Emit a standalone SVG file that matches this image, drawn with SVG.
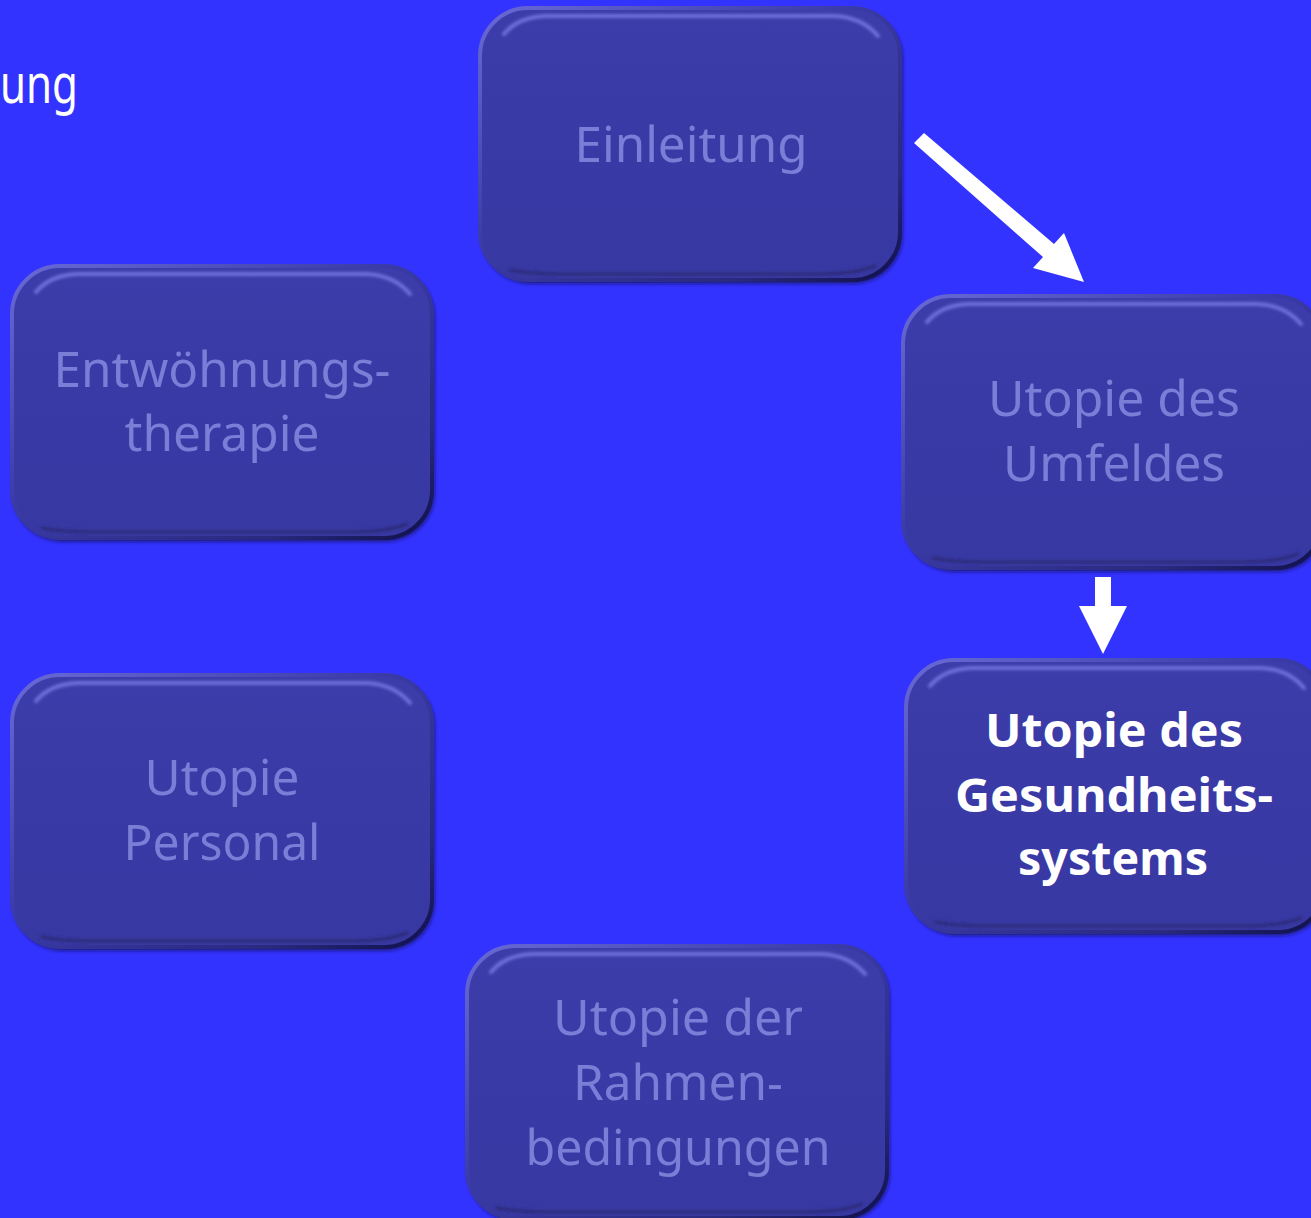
<svg xmlns="http://www.w3.org/2000/svg" width="1311" height="1218" viewBox="0 0 1311 1218">
<defs>
<linearGradient id="edge" x1="0" y1="0" x2="1" y2="1">
<stop offset="0" stop-color="#6a6ad6"/>
<stop offset="0.45" stop-color="#3a3aa6"/>
<stop offset="0.8" stop-color="#2a2a80"/>
<stop offset="1" stop-color="#10104a"/>
</linearGradient>
<linearGradient id="fillg" x1="0" y1="0" x2="0" y2="1">
<stop offset="0" stop-color="#3c3caa"/>
<stop offset="1" stop-color="#3838a3"/>
</linearGradient>
<filter id="blur" x="-10%" y="-50%" width="120%" height="200%">
<feGaussianBlur stdDeviation="1.5"/>
</filter>
<filter id="sh" x="-10%" y="-10%" width="130%" height="130%">
<feGaussianBlur stdDeviation="2"/>
</filter>
<g id="box">
<rect x="2" y="3" width="420" height="272" rx="48" fill="#15155a" filter="url(#sh)"/>
<rect x="0" y="0" width="420" height="272" rx="48" fill="url(#fillg)" stroke="url(#edge)" stroke-width="4"/>
<path d="M 24 26 Q 38 9 66 8 L 354 8 Q 382 9 398 28" fill="none" stroke="#6f6fdc" stroke-width="4" stroke-linecap="round" filter="url(#blur)"/>
<path d="M 30 262 Q 50 266 80 266 L 340 266 Q 375 266 395 258" fill="none" stroke="#2a2a78" stroke-width="3" stroke-linecap="round" filter="url(#blur)"/>
</g>
</defs>
<style>
.t{font-family:"Noto Sans","Open Sans","Liberation Sans",sans-serif;font-size:50px;fill:#7a7ed6;text-anchor:middle}
.b{font-family:"Noto Sans","Open Sans","Liberation Sans",sans-serif;font-size:47px;font-weight:bold;fill:#ffffff;text-anchor:middle}
.h{font-family:"Noto Sans","Open Sans","Liberation Sans",sans-serif;font-size:54px;fill:#ffffff}
</style>
<rect x="0" y="0" width="1311" height="1218" fill="#3333ff"/>
<text class="h" x="0" y="103" textLength="78" lengthAdjust="spacingAndGlyphs">ung</text>
<g id="connectors" fill="#ffffff">
<polygon points="924,133 1054,244 1064,233 1084,282 1033,268 1043,257 914,143"/>
<polygon points="1095,577 1111,577 1111,606 1127,606 1103,654 1079,606 1095,606"/>
</g>
<g id="n-einleitung">
<use href="#box" x="480" y="8"/>
<text class="t" x="691" y="162" textLength="233" lengthAdjust="spacingAndGlyphs">Einleitung</text>
</g>
<g id="n-entwoehnung">
<use href="#box" x="12" y="266"/>
<text class="t" x="222" y="387" textLength="337" lengthAdjust="spacingAndGlyphs">Entwöhnungs-</text>
<text class="t" x="222" y="451" textLength="195" lengthAdjust="spacingAndGlyphs">therapie</text>
</g>
<g id="n-umfeld">
<use href="#box" x="903" y="296"/>
<text class="t" x="1114" y="416" textLength="252" lengthAdjust="spacingAndGlyphs">Utopie des</text>
<text class="t" x="1114" y="481" textLength="222" lengthAdjust="spacingAndGlyphs">Umfeldes</text>
</g>
<g id="n-gesundheit">
<use href="#box" x="906" y="660"/>
<text class="b" x="1114" y="747" textLength="258" lengthAdjust="spacingAndGlyphs">Utopie des</text>
<text class="b" x="1114" y="812" textLength="318" lengthAdjust="spacingAndGlyphs">Gesundheits-</text>
<text class="b" x="1113" y="875" textLength="190" lengthAdjust="spacingAndGlyphs">systems</text>
</g>
<g id="n-personal">
<use href="#box" x="12" y="675"/>
<text class="t" x="222" y="795" textLength="155" lengthAdjust="spacingAndGlyphs">Utopie</text>
<text class="t" x="222" y="860" textLength="197" lengthAdjust="spacingAndGlyphs">Personal</text>
</g>
<g id="n-rahmen">
<use href="#box" x="467" y="946"/>
<text class="t" x="678" y="1035" textLength="250" lengthAdjust="spacingAndGlyphs">Utopie der</text>
<text class="t" x="678" y="1100" textLength="210" lengthAdjust="spacingAndGlyphs">Rahmen-</text>
<text class="t" x="678" y="1165" textLength="305" lengthAdjust="spacingAndGlyphs">bedingungen</text>
</g>
</svg>
